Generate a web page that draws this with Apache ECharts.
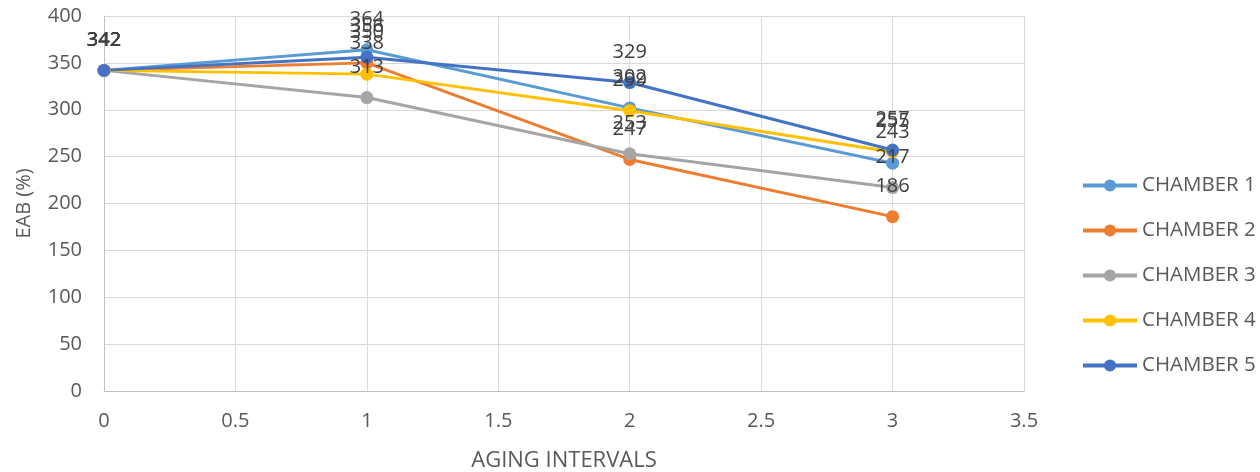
<!DOCTYPE html>
<html>
<head>
<meta charset="utf-8">
<script src="https://cdn.jsdelivr.net/npm/echarts@6/dist/echarts.min.js"></script>
<style>
  html, body { margin: 0; padding: 0; background: #ffffff; }
  #chart { width: 1260px; height: 472px; }
</style>
</head>
<body>
<div id="chart"></div>
<script>
// Aging interval positions on the x axis
const intervals = [0, 1, 2, 3];

// EAB (%) per chamber at each aging interval
const chamber1 = [342, 364, 302, 243];
const chamber2 = [342, 350, 247, 186];
const chamber3 = [342, 313, 253, 217];
const chamber4 = [342, 338, 299, 255];
const chamber5 = [342, 356, 329, 257];

const seriesNames = ['CHAMBER 1', 'CHAMBER 2', 'CHAMBER 3', 'CHAMBER 4', 'CHAMBER 5'];
const seriesValues = [chamber1, chamber2, chamber3, chamber4, chamber5];
const seriesColors = ['#5B9BD5', '#ED7D31', '#A5A5A5', '#FFC000', '#4472C4'];

const FONT = 'Open Sans';

const chart = echarts.init(document.getElementById('chart'), null, { renderer: 'canvas' });

const series = seriesNames.map((name, i) => ({
  name: name,
  type: 'line',
  data: intervals.map((x, j) => [x, seriesValues[i][j]]),
  symbol: 'circle',
  symbolSize: 13,
  lineStyle: { width: 3, color: seriesColors[i] },
  itemStyle: { color: seriesColors[i] },
  label: {
    show: true,
    position: 'top',
    distance: 14,
    color: '#404040',
    fontFamily: FONT,
    fontSize: 20,
    formatter: p => p.value[1]
  },
  emphasis: { disabled: true },
  animation: false
}));

chart.setOption({
  backgroundColor: '#ffffff',
  animation: false,
  grid: { left: 104, right: 236, top: 16, bottom: 81, outerBoundsMode: 'none', containLabel: false },
  legend: {
    orient: 'vertical',
    left: 1076,
    top: 170,
    itemWidth: 54,
    itemHeight: 15,
    itemGap: 24,
    lineStyle: { width: 4 },
    textStyle: { color: '#595959', fontFamily: FONT, fontSize: 20.5 },
    data: seriesNames
  },
  xAxis: {
    type: 'value',
    min: 0,
    max: 3.5,
    interval: 0.5,
    name: 'AGING INTERVALS',
    nameLocation: 'middle',
    nameGap: 59,
    nameTextStyle: { color: '#595959', fontFamily: FONT, fontSize: 22 },
    axisLine: { show: true, lineStyle: { color: '#BFBFBF', width: 1 } },
    axisTick: { show: false },
    axisLabel: { color: '#595959', fontFamily: FONT, fontSize: 20, margin: 20 },
    splitLine: { show: true, lineStyle: { color: '#D9D9D9', width: 1 } }
  },
  yAxis: {
    type: 'value',
    min: 0,
    max: 400,
    interval: 50,
    name: 'EAB (%)',
    nameLocation: 'middle',
    nameGap: 70,
    nameTextStyle: { color: '#595959', fontFamily: FONT, fontSize: 20 },
    axisLine: { show: true, lineStyle: { color: '#BFBFBF', width: 1 } },
    axisTick: { show: false },
    axisLabel: { color: '#595959', fontFamily: FONT, fontSize: 20, margin: 22 },
    splitLine: { show: true, lineStyle: { color: '#D9D9D9', width: 1 } }
  },
  series: series
});
</script>
</body>
</html>
